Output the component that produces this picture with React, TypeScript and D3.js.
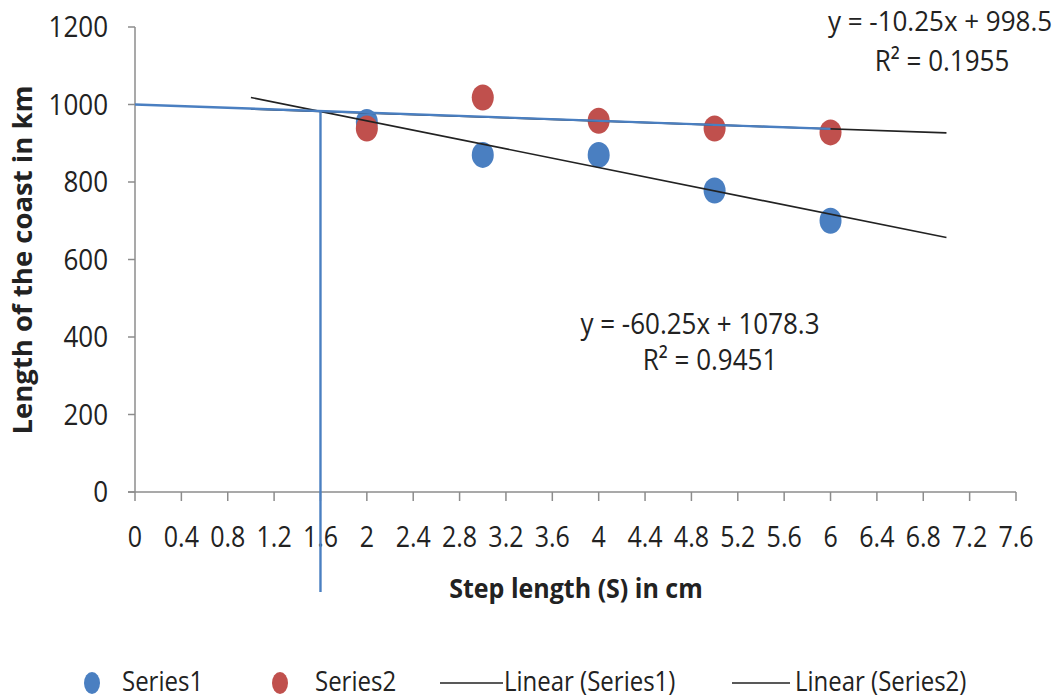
import React from "react";
import * as d3 from "d3";

const xTicks = [0, 0.4, 0.8, 1.2, 1.6, 2, 2.4, 2.8, 3.2, 3.6, 4, 4.4, 4.8, 5.2, 5.6, 6, 6.4, 6.8, 7.2, 7.6];
const yTicks = [0, 200, 400, 600, 800, 1000, 1200];
const stepX = [2, 3, 4, 5, 6];
const series1 = [955, 870, 870, 778, 700];
const series2 = [938, 1018, 958, 938, 928];
const trend1 = { slope: -60.25, intercept: 1078.3, from: 1, to: 7 };
const trend2 = { slope: -10.25, intercept: 998.5, from: 1, to: 7 };
const guideH = [[0, 1000], [6, 937]];
const guideV = [[1.6, 985], [1.6, -258]];
const eq1 = ["y = -60.25x + 1078.3", "R\u00b2 = 0.9451"];
const eq2 = ["y = -10.25x + 998.5", "R\u00b2 = 0.1955"];
const legendItems = ["Series1", "Series2", "Linear (Series1)", "Linear (Series2)"];

const BLUE = "#4a7fc1";
const RED = "#c0504d";
const AXIS = "#8c8c8c";
const FONT = "'Open Sans', 'Liberation Sans', sans-serif";

function T(props: {
  x: number; y: number; size: number; sx?: number; sy?: number; rot?: number;
  anchor?: string; bold?: boolean; children: React.ReactNode;
}) {
  const { x, y, size, sx = 1, sy = 1.15, rot = 0, anchor = "start", bold = false } = props;
  return (
    <text
      transform={`translate(${x},${y}) rotate(${rot}) scale(${sx},${sy})`}
      textAnchor={anchor}
      fontSize={size}
      fontWeight={bold ? "bold" : "normal"}
      fill="#222"
    >
      {props.children}
    </text>
  );
}

export default function App() {
  const W = 1063, H = 699;
  const x = d3.scaleLinear().domain([0, 7.6]).range([135, 1016]);
  const y = d3.scaleLinear().domain([0, 1200]).range([492, 27]);
  const line = d3.line<number[]>().x((d) => x(d[0])).y((d) => y(d[1]));
  const tl = (t: typeof trend1) => [
    [t.from, t.intercept + t.slope * t.from],
    [t.to, t.intercept + t.slope * t.to],
  ];
  const pts1 = stepX.map((s, i) => [s, series1[i]]);
  const pts2 = stepX.map((s, i) => [s, series2[i]]);

  return (
    <svg width={W} height={H} style={{ position: "absolute", left: 0, top: 0, background: "#fff" }} fontFamily={FONT}>
      {/* axes */}
      <line x1={x(0)} x2={x(0)} y1={y(1200)} y2={y(0)} stroke={AXIS} strokeWidth={1.5} />
      {yTicks.map((t) => (
        <g key={t}>
          <line x1={x(0) - 7} x2={x(0)} y1={y(t)} y2={y(t)} stroke={AXIS} strokeWidth={1.5} />
          <T x={108} y={y(t) + 10} size={26} anchor="end">{t}</T>
        </g>
      ))}
      <line x1={x(0) - 7} x2={x(7.6)} y1={y(0)} y2={y(0)} stroke={AXIS} strokeWidth={1.5} />
      {xTicks.map((t) => (
        <g key={t}>
          <line x1={x(t)} x2={x(t)} y1={y(0)} y2={y(0) + 9} stroke={AXIS} strokeWidth={1.5} />
          <T x={x(t)} y={547} size={25} anchor="middle">{t}</T>
        </g>
      ))}
      {/* points */}
      {pts1.map((p, i) => (
        <ellipse key={"a" + i} cx={x(p[0])} cy={y(p[1])} rx={11} ry={13} fill={BLUE} />
      ))}
      {pts2.map((p, i) => (
        <ellipse key={"b" + i} cx={x(p[0])} cy={y(p[1])} rx={11} ry={13} fill={RED} />
      ))}
      {/* trend lines */}
      <path d={line(tl(trend1)) || ""} stroke="#222" strokeWidth={1.6} fill="none" />
      <path d={line(tl(trend2)) || ""} stroke="#222" strokeWidth={1.6} fill="none" />
      {/* guide lines */}
      <path d={line(guideH) || ""} stroke={BLUE} strokeWidth={2.4} fill="none" />
      <path d={line(guideV) || ""} stroke={BLUE} strokeWidth={2.4} fill="none" />
      {/* equations */}
      <T x={940} y={31} size={26} sy={1.05} anchor="middle">{eq2[0]}</T>
      <T x={942} y={71} size={26} anchor="middle">{eq2[1]}</T>
      <T x={700} y={334} size={26} anchor="middle">{eq1[0]}</T>
      <T x={710} y={370} size={26} anchor="middle">{eq1[1]}</T>
      {/* axis titles */}
      <T x={32} y={260} rot={-90} sy={1} size={27.5} anchor="middle" bold>Length of the coast in km</T>
      <T x={576} y={598} sy={1.05} size={25} anchor="middle" bold>Step length (S) in cm</T>
      {/* legend */}
      <ellipse cx={92} cy={683} rx={8} ry={11} fill={BLUE} />
      <T x={122} y={691} size={25} sx={0.96} sy={1.1}>{legendItems[0]}</T>
      <ellipse cx={280} cy={683} rx={8} ry={11} fill={RED} />
      <T x={315} y={691} size={25} sx={0.96} sy={1.1}>{legendItems[1]}</T>
      <line x1={440} x2={503} y1={683} y2={683} stroke="#222" strokeWidth={1.6} />
      <T x={504} y={691} size={25} sx={0.96} sy={1.1}>{legendItems[2]}</T>
      <line x1={732} x2={790} y1={683} y2={683} stroke="#222" strokeWidth={1.6} />
      <T x={795} y={691} size={25} sx={0.96} sy={1.1}>{legendItems[3]}</T>
    </svg>
  );
}
